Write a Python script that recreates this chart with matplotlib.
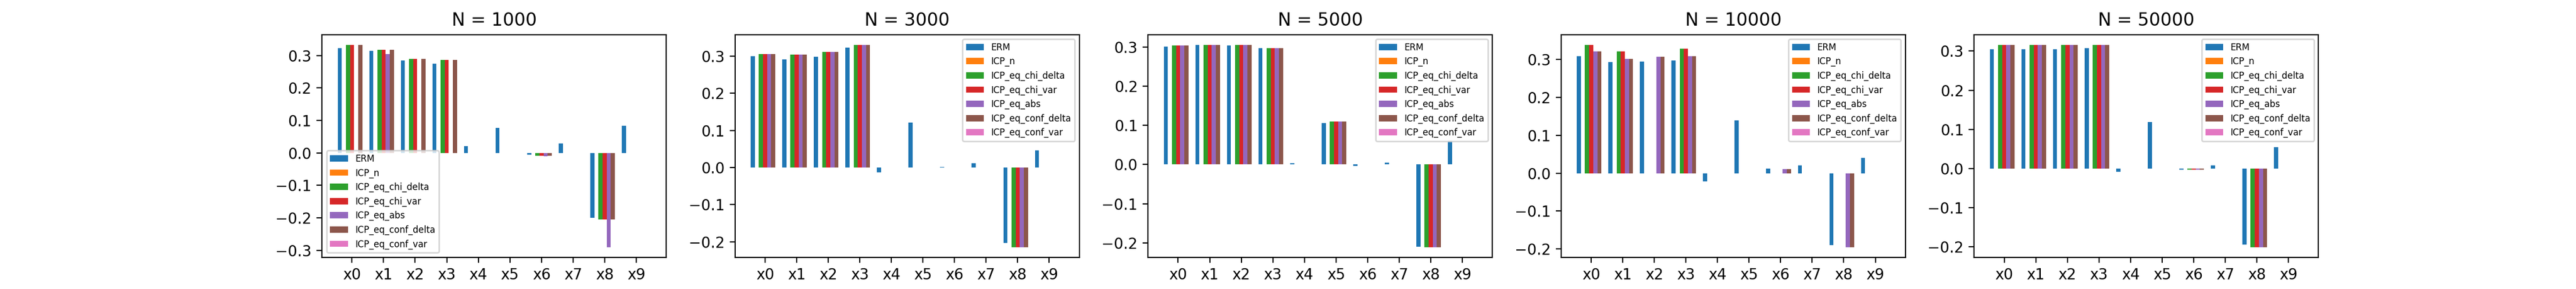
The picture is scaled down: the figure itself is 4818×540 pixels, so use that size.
import numpy as np
import matplotlib
matplotlib.use("Agg")
import matplotlib.pyplot as plt

features = ["x0", "x1", "x2", "x3", "x4", "x5", "x6", "x7", "x8", "x9"]
methods = ["ERM", "ICP_n", "ICP_eq_chi_delta", "ICP_eq_chi_var",
           "ICP_eq_abs", "ICP_eq_conf_delta", "ICP_eq_conf_var"]
sizes = [1000, 3000, 5000, 10000, 50000]
zero = [0.0] * 10

# N = 1000
erm_1000 = [0.323, 0.315, 0.284, 0.274, 0.021, 0.077, -0.006, 0.030, -0.200, 0.084]
chi_1000 = [0.333, 0.318, 0.289, 0.287, 0.0, 0.0, -0.008, 0.0, -0.204, 0.0]
abs_1000 = [0.0, 0.305, 0.0, 0.0, 0.0, 0.0, -0.011, 0.0, -0.290, 0.0]
conf_1000 = [0.333, 0.318, 0.289, 0.287, 0.0, 0.0, -0.008, 0.0, -0.204, 0.0]
# N = 3000
erm_3000 = [0.300, 0.291, 0.298, 0.323, -0.013, 0.121, 0.002, 0.012, -0.203, 0.046]
icp_3000 = [0.305, 0.304, 0.311, 0.330, 0.0, 0.0, 0.0, 0.0, -0.214, 0.0]
# N = 5000
erm_5000 = [0.302, 0.306, 0.304, 0.297, 0.004, 0.106, -0.003, 0.005, -0.210, 0.061]
icp_5000 = [0.304, 0.306, 0.306, 0.298, 0.0, 0.110, 0.0, 0.0, -0.211, 0.0]
# N = 10000
erm_10000 = [0.309, 0.294, 0.295, 0.298, -0.022, 0.140, 0.012, 0.021, -0.190, 0.041]
chi_10000 = [0.339, 0.322, 0.0, 0.329, 0.0, 0.0, 0.0, 0.0, 0.0, 0.0]
abs_10000 = [0.321, 0.302, 0.307, 0.309, 0.0, 0.0, 0.011, 0.0, -0.195, 0.0]
# N = 50000
erm_50000 = [0.304, 0.305, 0.305, 0.307, -0.009, 0.118, -0.003, 0.008, -0.195, 0.055]
icp_50000 = [0.315, 0.316, 0.315, 0.316, 0.0, 0.0, -0.003, 0.0, -0.201, 0.0]

results = [
    [erm_1000, zero, chi_1000, chi_1000, abs_1000, conf_1000, zero],
    [erm_3000, zero, icp_3000, icp_3000, icp_3000, icp_3000, zero],
    [erm_5000, zero, icp_5000, icp_5000, icp_5000, icp_5000, zero],
    [erm_10000, zero, chi_10000, chi_10000, abs_10000, abs_10000, zero],
    [erm_50000, zero, icp_50000, icp_50000, icp_50000, icp_50000, zero],
]

fig, axes = plt.subplots(1, 5, figsize=(24.09, 2.7), dpi=200)
x = np.arange(len(features))
w = 0.13
for k, ax in enumerate(axes):
    for i, name in enumerate(methods):
        ax.bar(x + (i - 3) * w, results[k][i], w, label=name, color=f"C{i}")
    ax.set_xticks(x)
    ax.set_xticklabels(features)
    ax.set_title(f"N = {sizes[k]}")
    ax.legend(loc="lower left" if k == 0 else "upper right", fontsize=6)

plt.savefig("out.png")
